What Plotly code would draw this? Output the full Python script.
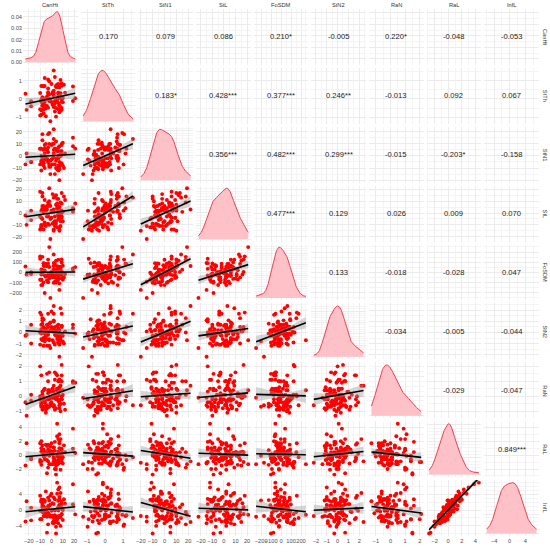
import numpy as np
import plotly.graph_objects as go
from plotly.subplots import make_subplots

# variable names (columns of the pairs plot)
names = ["CanHt", "StTh", "StN1", "StL", "FoSDM", "StN2", "RaN", "RaL", "InfL"]

# observations, estimated off the scatter panels
can_ht = [6, -9, 9, 1, 7, -18, 0, 8, -5, -3,
          -8, 2, 11, -10, 5, -5, -18, 6, 3, 7,
          1, -4, 12, -3, -7, 10, -5, 7, -8, 3,
          -3, 6, -7, 7, 8, -2, -2, -22, 3, -6,
          10, -6, 5, 3, -9, 5, 19, -10, 0, 9,
          -2, 7, -6, -9, 2, 6, -3, 2, -7, 9,
          5, 2, -2, 9, -6, 19, -9, 2, -10, 4,
          -7, 4, 9, -9, 7, -4, -1, -8, 6, -4,
          1, -8, 8, -1, -23, 9, 2, 5, -6, 6,
          7, -3, -6, 8, -1, 4, 4, -8, 6, 21]
st_th = [0.29, -0.86, 0.84, 0.35, 0.18, -0.40, -0.17, 1.03, -0.42, -0.48,
         -0.24, 0.31, 0.77, -0.91, 0.65, -0.53, -0.13, 0.04, 1.19, 0.12,
         -0.32, -0.39, 0.33, 0.26, 0.68, -0.18, -0.95, -0.73, 0.70, -0.11,
         0.57, 0.16, -0.80, 0.18, 0.31, 0.96, -0.01, -0.60, -0.69, 1.14,
         0.05, 0.02, 0.02, -0.24, -0.64, 0.77, -0.12, -0.57, 0.81, 0.71,
         0.24, -0.38, -0.35, 0.70, -0.44, -0.57, 1.06, 0.17, -0.58, -0.01,
         0.74, -0.33, -0.12, -0.59, -0.41, 0.67, -0.14, 0.45, 0.32, -0.97,
         -0.40, 0.71, -0.16, -0.05, 0.63, -0.02, -1.22, -0.36, 0.34, 0.12,
         0.29, 0.09, -0.51, -0.10, 0.28, -0.49, 1.55, -0.12, -0.17, -0.23,
         -0.35, 0.36, 0.70, -0.64, -0.03, 0.65, -0.49, -0.38, 0.81, 0.04]
st_n1 = [0, -4, 9, -2, 8, -5, -3, -7, 10, -4,
         -3, 22, -10, 6, -2, -2, -5, 7, 6, -9,
         -7, 5, 2, -5, 5, 11, -3, -20, 18, -7,
         7, -2, -8, -8, 4, 19, -7, 2, -15, 2,
         -8, 6, -2, 6, -12, 4, 8, -7, 9, 10,
         10, -11, -1, 0, -1, -10, 18, 5, -5, -6,
         -2, 10, -9, 4, -10, 15, -5, 2, 6, 5,
         -6, -4, 2, 6, 0, 5, -15, 13, -12, -2,
         10, -6, 0, -4, -7, 1, 14, -11, 9, -8,
         -5, 3, 6, 1, -9, 12, -10, -1, 4, 6]
st_l = [6, -11, -4, 16, -14, 2, 2, 2, 3, -3,
        -5, 3, 14, -14, 12, -11, -6, 2, 14, -12,
        -9, -3, 11, -2, 6, -7, 2, -15, 14, -3,
        6, 4, -14, 5, 9, 21, -10, -10, -11, 4,
        1, 5, 4, -7, -12, 6, 4, -3, -4, 17,
        7, -4, -8, 2, -14, 12, 9, -8, 1, 0,
        8, -15, 10, 8, -9, 1, -10, 1, 18, -7,
        -10, 7, -3, -4, 5, 6, -22, 17, -5, 3,
        2, 6, -7, -5, -2, 2, 13, -12, 11, -2,
        -1, -9, 2, -11, 6, 15, -9, 4, -1, 8]
fo_sdm = [125, -21, -56, -20, 35, -15, -47, -21, 83, -96,
          -124, 63, -49, 135, 22, -44, 2, 57, 82, -58,
          -25, -78, -16, 86, 66, 65, -37, -172, 153, -51,
          -27, -31, 91, -108, 36, 249, -14, -20, -92, 85,
          -73, 62, -88, 68, -72, 62, 40, -72, 4, 127,
          53, -18, 70, -125, -30, -69, 126, 29, -98, -6,
          -64, 93, -59, 98, -202, 27, 28, -102, 158, -22,
          87, 25, 9, -71, 54, 60, -251, 5, -3, -30,
          -48, -4, 57, -31, 58, -24, 176, -58, -29, 42,
          0, -92, 18, 53, -36, 115, -102, 25, -1, 52]
st_n2 = [-0.9, -0.6, 1.7, 0.1, -0.3, 0.7, 0.5, -0.7, 0.3, -0.2,
         0.8, 2.4, -1.0, 0.0, -0.1, -0.3, -1.0, 0.4, 0.5, -1.0,
         -0.7, 0.7, 0.1, 1.7, -0.5, -0.3, -0.3, -2.2, 1.3, -0.2,
         0.5, -0.9, 1.2, 0.2, 2.2, -0.7, -1.2, -0.2, 0.1, -0.1,
         -0.8, 0.3, 0.2, -1.1, 0.3, 0.6, 0.4, -1.1, 1.9, 0.5,
         0.8, -1.1, -0.5, -0.1, 1.0, -0.4, 0.0, 0.3, -1.2, 0.6,
         -0.6, 1.1, -0.6, -0.2, -0.8, 0.7, 0.7, -0.9, 1.8, -0.1,
         0.5, 0.1, -0.1, 1.6, -1.0, -0.6, -1.4, 0.3, 0.7, -1.2,
         0.1, -0.7, -0.1, 0.2, -0.3, 0.6, 1.7, 0.1, -0.6, 0.2,
         -1.0, 0.1, 0.4, -0.5, 0.9, 0.1, -0.3, 1.1, -0.6, -0.1]
ra_n = [0.1, -0.7, 1.4, -0.1, -0.4, -0.3, -0.6, 1.0, -1.1, 0.2,
        -0.7, 0.7, -0.5, 2.0, 0.0, -0.9, 0.1, -0.3, 0.0, 1.1,
        0.5, 1.5, -0.9, -0.2, -0.3, 0.4, -0.6, -0.6, 0.1, 1.6,
        -0.2, -0.2, -0.7, 1.1, 0.7, 0.4, -0.2, -1.3, 1.1, -0.3,
        0.1, -0.2, 0.5, -0.9, -0.4, 1.4, 0.9, -0.2, -0.4, 2.1,
        -0.7, 0.6, -0.4, -0.5, 0.3, 0.2, 1.0, -0.7, 0.4, -0.2,
        0.4, -0.1, 1.6, -0.2, -0.7, 1.0, -0.6, -0.6, 0.0, -0.2,
        -0.1, -0.8, 0.0, 1.4, 0.4, -0.6, -0.1, 0.1, 1.0, -0.8,
        0.5, 0.3, -1.0, -0.5, -0.4, 1.0, -0.6, 0.5, -0.4, 0.1,
        -0.8, 0.4, 0.5, -0.5, 0.3, -0.1, 1.5, -0.9, 0.1, 0.9]
ra_l = [-1.2, 1.0, -0.6, 0.5, 1.9, -0.4, 1.7, -2.1, 0.3, 0.1,
        0.7, -0.9, 1.4, -1.0, -1.4, 0.4, -0.6, 0.5, -0.7, 3.0,
        0.1, -2.6, 0.4, 1.5, -0.2, -1.2, 1.5, -1.1, 0.4, 1.9,
        0.8, -1.2, 0.8, -0.1, 2.3, -1.3, 0.0, 1.7, -2.0, 0.0,
        -0.3, 0.1, -1.0, 0.6, 2.0, -0.1, 3.8, -0.7, 0.2, -1.0,
        -0.1, 1.0, -0.6, -1.4, 1.1, 0.1, -1.8, 1.1, 0.1, -0.1,
        2.7, -1.2, 0.4, 0.2, -0.1, 0.9, 0.5, -0.5, 1.7, -2.0,
        0.6, -1.1, 0.9, -0.9, 0.2, -0.7, -1.3, 0.4, 2.3, 1.3,
        -1.3, 1.4, -0.2, 0.6, -1.5, 0.7, -0.3, 4.5, -0.1, -0.3,
        1.7, -0.9, 0.1, -0.4, 1.2, -1.5, -2.8, 0.5, -0.7, 0.3]
inf_l = [-3.3, 2.1, 0.4, 1.7, 2.8, -2.6, 4.1, -4.0, -0.8, 0.6,
         2.5, -3.0, 2.7, -2.3, -1.6, -0.1, 0.6, -0.1, -1.3, 5.7,
         -1.4, -5.7, 1.6, 3.1, 0.9, -2.5, 4.7, -1.5, -0.5, 2.7,
         1.0, -1.6, -0.4, 1.2, 4.3, -1.2, 2.4, 2.2, -2.9, -1.5,
         0.0, 2.1, -2.1, -0.1, 2.6, -2.4, 6.5, -0.2, -0.2, -1.0,
         -1.5, 2.5, 0.5, -2.3, 1.5, 2.3, -3.6, 3.2, -1.5, -1.1,
         4.1, -3.3, 1.1, 1.4, 2.4, 1.4, 2.2, -2.8, 3.6, -4.2,
         2.6, -1.9, 0.4, -2.3, 1.3, -1.7, -1.7, 0.7, 5.2, 0.2,
         -3.2, 1.1, 1.3, 1.4, -2.9, 2.1, -2.0, 6.9, 0.2, 0.5,
         3.3, -0.7, -0.3, -1.8, 3.6, -3.0, -5.9, 1.5, 0.7, -1.1]

# correlation labels of the upper triangle, row by row
corr_labels = [
    ["0.170", "0.079", "0.086", "0.210*", "-0.005", "0.220*", "-0.048", "-0.053"],
    ["0.183*", "0.428***", "0.377***", "0.246**", "-0.013", "0.092", "0.067"],
    ["0.356***", "0.482***", "0.299***", "-0.015", "-0.203*", "-0.158"],
    ["0.477***", "0.129", "0.026", "0.009", "0.070"],
    ["0.133", "-0.018", "-0.028", "0.047"],
    ["-0.034", "-0.005", "-0.044"],
    ["-0.029", "-0.047"],
    ["0.849***"],
]

# tick labels of each variable's axis
var_ticks = [
    [-20, -10, 0, 10, 20],
    [-1, 0, 1],
    [-20, -10, 0, 10, 20],
    [-20, -10, 0, 10, 20],
    [-200, -100, 0, 100, 200],
    [-2, -1, 0, 1, 2],
    [-1, 0, 1, 2],
    [-2, 0, 2, 4],
    [-4, 0, 4],
]
density_ticks = [0.00, 0.01, 0.02, 0.03, 0.04]

data = [can_ht, st_th, st_n1, st_l, fo_sdm, st_n2, ra_n, ra_l, inf_l]
n_var = len(names)

POINT = "#FF0000"
GRID = "#EBEBEB"
MINOR = "#F4F4F4"
FONT = "Liberation Sans, Arial, sans-serif"


def kde(v, adjust=1.3, n_grid=256):
    # gaussian density, bandwidth like R's bw.nrd0 (times adjust), over the data range
    v = np.asarray(v, float)
    n = v.size
    q75, q25 = np.percentile(v, [75, 25])
    bw = adjust * 0.9 * min(v.std(ddof=1), (q75 - q25) / 1.34) * n ** -0.2
    gx = np.linspace(v.min(), v.max(), n_grid)
    gy = np.exp(-0.5 * ((gx[:, None] - v[None, :]) / bw) ** 2).sum(1) / (n * bw * np.sqrt(2 * np.pi))
    return gx, gy


def lm_band(x, y, n_grid=60):
    x = np.asarray(x, float)
    y = np.asarray(y, float)
    b, a = np.polyfit(x, y, 1)
    gx = np.linspace(x.min(), x.max(), n_grid)
    fit = a + b * gx
    resid = y - (a + b * x)
    s = np.sqrt((resid ** 2).sum() / (x.size - 2))
    se = s * np.sqrt(1 / x.size + (gx - x.mean()) ** 2 / ((x - x.mean()) ** 2).sum())
    t = 1.984
    return gx, fit, fit - t * se, fit + t * se


def pad_range(v):
    lo, hi = float(np.min(v)), float(np.max(v))
    pad = 0.05 * (hi - lo)
    return [lo - pad, hi + pad]


def minor_vals(ticks):
    step = ticks[1] - ticks[0]
    return [ticks[0] - step / 2 + k * step for k in range(len(ticks) + 1)]


ranges = [pad_range(v) for v in data]

fig = make_subplots(rows=n_var, cols=n_var,
                    horizontal_spacing=0.0057, vertical_spacing=0.0057)

dens_max = {}
for i in range(n_var):
    for j in range(n_var):
        r, c = i + 1, j + 1
        if i > j:
            fig.add_trace(go.Scatter(x=data[j], y=data[i], mode="markers",
                                     marker=dict(color=POINT, size=3.9),
                                     hoverinfo="skip"), row=r, col=c)
            gx, fit, lo, hi = lm_band(data[j], data[i])
            fig.add_trace(go.Scatter(x=np.concatenate([gx, gx[::-1]]),
                                     y=np.concatenate([hi, lo[::-1]]),
                                     fill="toself", fillcolor="rgba(153,153,153,0.4)",
                                     line=dict(width=0), mode="lines",
                                     hoverinfo="skip"), row=r, col=c)
            fig.add_trace(go.Scatter(x=gx, y=fit, mode="lines",
                                     line=dict(color="black", width=1.6),
                                     hoverinfo="skip"), row=r, col=c)
        elif i == j:
            gx, gy = kde(data[i])
            dens_max[i] = gy.max()
            fig.add_trace(go.Scatter(x=gx, y=gy, mode="lines", fill="tozeroy",
                                     fillcolor="#FFC1C8",
                                     line=dict(color="#F2404C", width=1),
                                     hoverinfo="skip"), row=r, col=c)
        else:
            # empty trace so the panel (and its grid) is drawn
            fig.add_trace(go.Scatter(x=[], y=[], mode="markers", hoverinfo="skip"),
                          row=r, col=c)
            k = i * n_var + j + 1
            fig.add_annotation(text=corr_labels[i][j - i - 1],
                               xref=f"x{k} domain", yref=f"y{k} domain",
                               x=0.5, y=0.5, showarrow=False,
                               font=dict(size=7.6, color="#1A1A1A", family=FONT))

tick_font = dict(size=5.7, color="#4D4D4D", family=FONT)

for i in range(n_var):
    for j in range(n_var):
        r, c = i + 1, j + 1
        fig.update_xaxes(range=ranges[j], tickmode="array", tickvals=var_ticks[j],
                         showticklabels=(i == n_var - 1), tickfont=tick_font, tickangle=0,
                         showgrid=True, gridcolor=GRID, gridwidth=0.8,
                         minor=dict(tickvals=minor_vals(var_ticks[j]), showgrid=True,
                                    gridcolor=MINOR, gridwidth=0.6),
                         zeroline=False, showline=False, ticks="",
                         row=r, col=c)
        if i == j:
            dmax = dens_max[i]
            yr = [-0.05 * dmax, 1.05 * dmax]
            if i == 0:
                fig.update_yaxes(range=yr, tickmode="array", tickvals=density_ticks,
                                 tickformat=".2f",
                                 minor=dict(tickvals=minor_vals(density_ticks), showgrid=True,
                                            gridcolor=MINOR, gridwidth=0.6),
                                 row=r, col=c)
            else:
                fig.update_yaxes(range=yr, nticks=5,
                                 minor=dict(showgrid=True, gridcolor=MINOR, gridwidth=0.6),
                                 row=r, col=c)
        else:
            fig.update_yaxes(range=ranges[i], tickmode="array", tickvals=var_ticks[i],
                             minor=dict(tickvals=minor_vals(var_ticks[i]), showgrid=True,
                                        gridcolor=MINOR, gridwidth=0.6),
                             row=r, col=c)
        fig.update_yaxes(showticklabels=(j == 0), tickfont=tick_font,
                         showgrid=True, gridcolor=GRID, gridwidth=0.8,
                         zeroline=False, showline=False, ticks="",
                         row=r, col=c)

# strip labels: variable names on top and on the right
strip_font = dict(size=5.7, color="#333333", family=FONT)
for j in range(n_var):
    xn = "x" if j == 0 else f"x{j + 1}"
    fig.add_annotation(text=names[j], xref=f"{xn} domain", yref="paper",
                       x=0.5, y=1, yanchor="bottom", showarrow=False, yshift=-1,
                       font=strip_font)
for i in range(n_var):
    k = i * n_var + n_var
    fig.add_annotation(text=names[i], xref="paper", yref=f"y{k} domain",
                       x=1, y=0.5, xanchor="left", yanchor="middle", showarrow=False,
                       textangle=90, xshift=1, font=strip_font)

fig.update_layout(width=550, height=553, showlegend=False,
                  margin=dict(l=17, r=11, t=9, b=11),
                  plot_bgcolor="white", paper_bgcolor="white",
                  font=dict(family=FONT))

# the page's default body margin would push the figure off the window
fig.write_html("out.html", config={"displayModeBar": False},
               post_script="document.body.style.margin='0px';")
